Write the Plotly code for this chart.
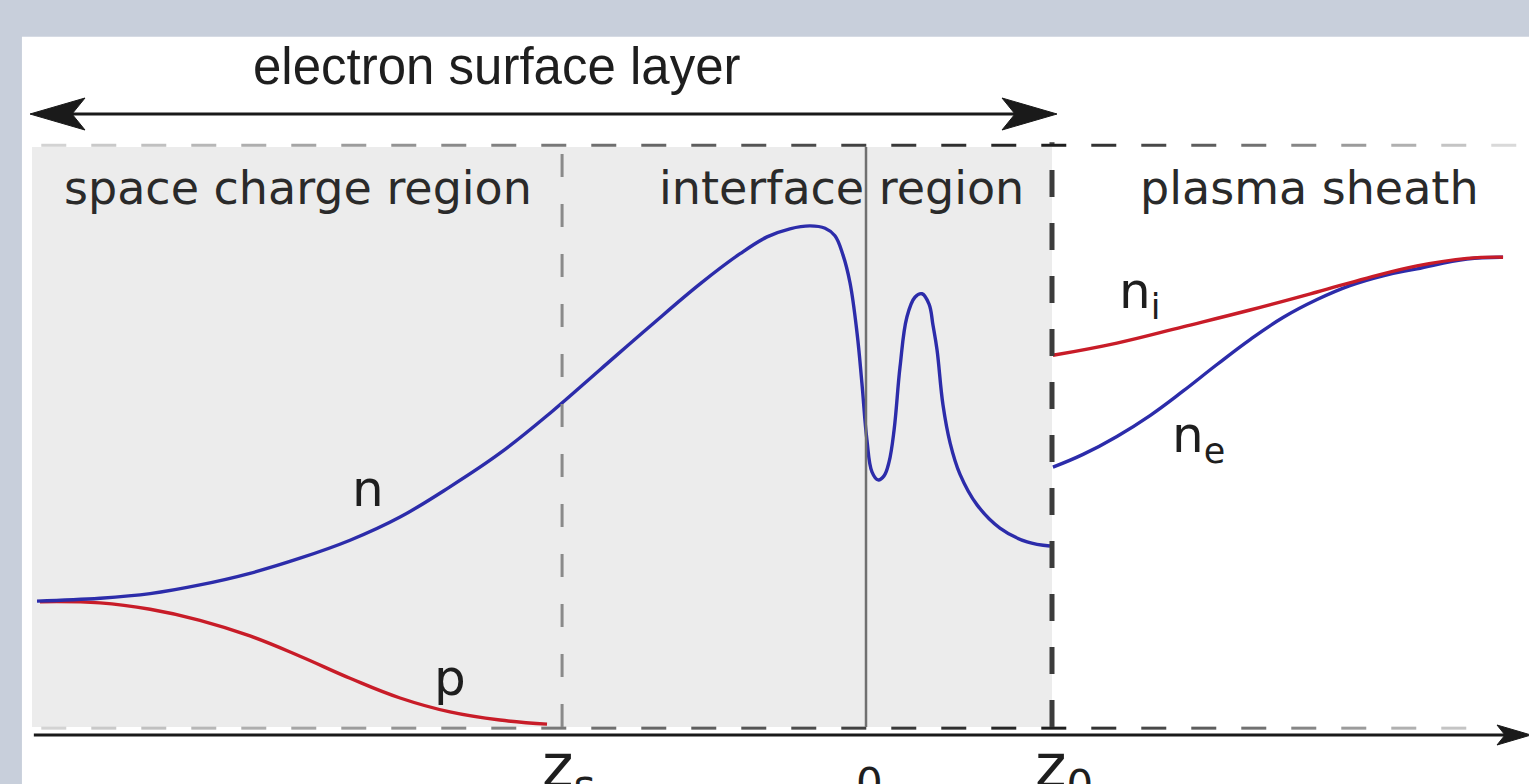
import plotly.graph_objects as go

# ---------------- data (z in units of z0, density in arbitrary units) ----------------
n_z = [-4.457, -4.118, -3.849, -3.581, -3.312, -3.043, -2.774, -2.505, -2.237, -1.968,
       -1.699, -1.430, -1.161, -0.892, -0.677, -0.532, -0.409, -0.301, -0.220,
       -0.167, -0.124, -0.086, -0.048, -0.022, 0.005, 0.032, 0.065, 0.097, 0.124,
       0.151, 0.183, 0.220, 0.263, 0.301, 0.339, 0.360, 0.382, 0.414, 0.452,
       0.505, 0.597, 0.720, 0.866, 0.989]
n_val = [0.217, 0.222, 0.230, 0.245, 0.265, 0.291, 0.322, 0.362, 0.414, 0.472,
         0.541, 0.616, 0.691, 0.764, 0.816, 0.845, 0.859, 0.864, 0.860,
         0.847, 0.814, 0.766, 0.679, 0.593, 0.495, 0.440, 0.426, 0.433, 0.457,
         0.512, 0.621, 0.707, 0.741, 0.747, 0.729, 0.693, 0.650, 0.555, 0.490,
         0.436, 0.383, 0.343, 0.319, 0.312]

p_z = [-4.441, -4.118, -3.849, -3.581, -3.312, -3.043, -2.774, -2.505, -2.237, -1.968, -1.715]
p_val = [0.216, 0.214, 0.203, 0.184, 0.157, 0.122, 0.084, 0.050, 0.026, 0.012, 0.005]

ni_z = [1.005, 1.349, 1.704, 2.065, 2.425, 2.694, 2.962, 3.231, 3.425]
ni_val = [0.641, 0.662, 0.690, 0.719, 0.750, 0.774, 0.795, 0.808, 0.810]

ne_z = [1.005, 1.167, 1.349, 1.527, 1.704, 1.887, 2.065, 2.242, 2.425, 2.602,
        2.780, 2.962, 3.231, 3.425]
ne_val = [0.448, 0.470, 0.501, 0.537, 0.579, 0.625, 0.668, 0.706, 0.737, 0.761,
          0.778, 0.790, 0.807, 0.810]

tick_z = [-1.634, 0.0, 1.0]
tick_labels = ["z<sub>s</sub>", "0", "z<sub>0</sub>"]

region_labels = ["space charge region", "interface region", "plasma sheath"]
region_label_z = [-3.054, -0.134, 2.382]

# ---------------- geometry / style ----------------
W, H = 1529, 784
ZPX = 186.0          # pixels per z unit
VPX = 580.0          # pixels per density unit
X_RANGE = [-866 / ZPX, (W - 866) / ZPX]
Y_RANGE = [-(H - 727) / VPX, 727 / VPX]

Z_LEFT = -4.484
Z_RIGHT = X_RANGE[1]
TOP = 1.0
BLUE = "rgb(44,44,170)"
RED = "rgb(200,28,40)"
FONT = "DejaVu Sans"

fig = go.Figure()

shapes = []
# white panel
shapes.append(dict(type="rect", xref="x", yref="y", x0=-4.538, x1=Z_RIGHT + 1, y0=Y_RANGE[0] - 1,
                   y1=1.19, fillcolor="white", line=dict(width=0), layer="below"))
# gray surface-layer region
shapes.append(dict(type="rect", xref="x", yref="y", x0=Z_LEFT, x1=tick_z[2], y0=0, y1=TOP,
                   fillcolor="#ececec", line=dict(width=0), layer="below"))


def gray_level(z):
    # darkest at z0, fading to both sides
    if z <= tick_z[2]:
        t = (z - Z_LEFT) / (tick_z[2] - Z_LEFT)
        g = 215 - t * (215 - 30)
    else:
        t = (z - tick_z[2]) / (Z_RIGHT - tick_z[2])
        g = 30 + t * (228 - 30)
    g = int(max(0, min(255, g)))
    return f"rgb({g},{g},{g})"


def dashed_h(y, z_start, z_end, width):
    dash = 25 / ZPX
    gap = 25 / ZPX
    z = z_start
    while z < z_end:
        ze = min(z + dash, z_end)
        shapes.append(dict(type="line", xref="x", yref="y", x0=z, x1=ze, y0=y, y1=y,
                           line=dict(color=gray_level((z + ze) / 2), width=width), layer="above"))
        z += dash + gap


dashed_h(TOP + 0.003, Z_LEFT + 0.05, Z_RIGHT, 3)
dashed_h(-0.002, Z_LEFT + 0.05, 3.30, 3)

# z_s dashed vertical
shapes.append(dict(type="line", xref="x", yref="y", x0=tick_z[0], x1=tick_z[0], y0=0, y1=TOP,
                   line=dict(color="#8a8a8a", width=3, dash="23px,27px")))
# z = 0 solid vertical
shapes.append(dict(type="line", xref="x", yref="y", x0=tick_z[1], x1=tick_z[1], y0=0, y1=TOP,
                   line=dict(color="#707070", width=2.5)))
# z0 dashed vertical
shapes.append(dict(type="line", xref="x", yref="y", x0=tick_z[2], x1=tick_z[2], y0=0, y1=TOP + 0.008,
                   line=dict(color="#3c3c3c", width=5, dash="27px,26px")))

# horizontal axis line
AXIS_Y = -(735 - 727) / VPX
shapes.append(dict(type="line", xref="x", yref="y", x0=Z_LEFT + 0.01, x1=Z_RIGHT - 0.1,
                   y0=AXIS_Y, y1=AXIS_Y, line=dict(color="#1a1a1a", width=3)))

# top double arrow line
ARR_Y = (727 - 114) / VPX
ARR_L = (30 - 866) / ZPX
ARR_R = (1057 - 866) / ZPX
shapes.append(dict(type="line", xref="x", yref="y", x0=ARR_L + 30 / ZPX, x1=ARR_R - 30 / ZPX,
                   y0=ARR_Y, y1=ARR_Y, line=dict(color="#1a1a1a", width=3)))


def arrow_head(tip_z, tip_v, direction, length_px, half_px, notch_px):
    bz = tip_z - direction * length_px / ZPX
    nz = tip_z - direction * notch_px / ZPX
    hv = half_px / VPX
    path = (f"M {tip_z},{tip_v} L {bz},{tip_v + hv} L {nz},{tip_v} "
            f"L {bz},{tip_v - hv} Z")
    shapes.append(dict(type="path", xref="x", yref="y", path=path,
                       fillcolor="#1a1a1a", line=dict(color="#1a1a1a", width=1)))


arrow_head(ARR_L, ARR_Y, -1, 55, 16, 42)
arrow_head(ARR_R, ARR_Y, 1, 55, 16, 42)
arrow_head(Z_RIGHT + 2 / ZPX, AXIS_Y, 1, 34, 10, 26)

# ---------------- curves ----------------
for xs, ys, col, sm in [(p_z, p_val, RED, 1.2), (n_z, n_val, BLUE, 1.1),
                        (ne_z, ne_val, BLUE, 1.2), (ni_z, ni_val, RED, 1.2)]:
    fig.add_trace(go.Scatter(x=xs, y=ys, mode="lines",
                             line=dict(color=col, width=3.4, shape="spline", smoothing=sm),
                             hoverinfo="skip"))

# ---------------- text ----------------
ann = []
ann.append(dict(x=(497 - 866) / ZPX, y=(727 - 66) / VPX, text="electron surface layer",
                font=dict(family="Liberation Sans", size=51, color="#1e1e1e")))
for lab, z in zip(region_labels, region_label_z):
    ann.append(dict(x=z, y=(727 - 188) / VPX, text=lab,
                    font=dict(family=FONT, size=46, color="#2a2a2a")))
curve_labels = [("n", -2.677, 0.41), ("p", -2.237, 0.084),
                ("n<sub>i</sub>", 1.47, 0.745), ("n<sub>e</sub>", 1.785, 0.497)]
for lab, z, v in curve_labels:
    ann.append(dict(x=z, y=v, text=lab, font=dict(family=FONT, size=50, color="#1e1e1e")))
tick_dx_px = [6, 3, 12]
tick_y_px = [770, 783, 770]
tick_size = [60, 42, 60]
for lab, z, dx, ty, fs in zip(tick_labels, tick_z, tick_dx_px, tick_y_px, tick_size):
    ann.append(dict(x=z + dx / ZPX, y=-(ty - 727) / VPX, text=lab,
                    font=dict(family=FONT, size=fs, color="#1e1e1e")))
for a in ann:
    a.update(xref="x", yref="y", showarrow=False, xanchor="center", yanchor="middle")

fig.update_layout(
    width=W, height=H, margin=dict(l=0, r=0, t=0, b=0),
    paper_bgcolor="#c8cfdb", plot_bgcolor="rgba(0,0,0,0)",
    showlegend=False, shapes=shapes, annotations=ann,
    xaxis=dict(range=X_RANGE, visible=False, fixedrange=True),
    yaxis=dict(range=Y_RANGE, visible=False, fixedrange=True),
)

fig.write_html("out.html", config={"displayModeBar": False},
               post_script="document.body.style.margin='0';document.body.style.overflow='hidden';")
